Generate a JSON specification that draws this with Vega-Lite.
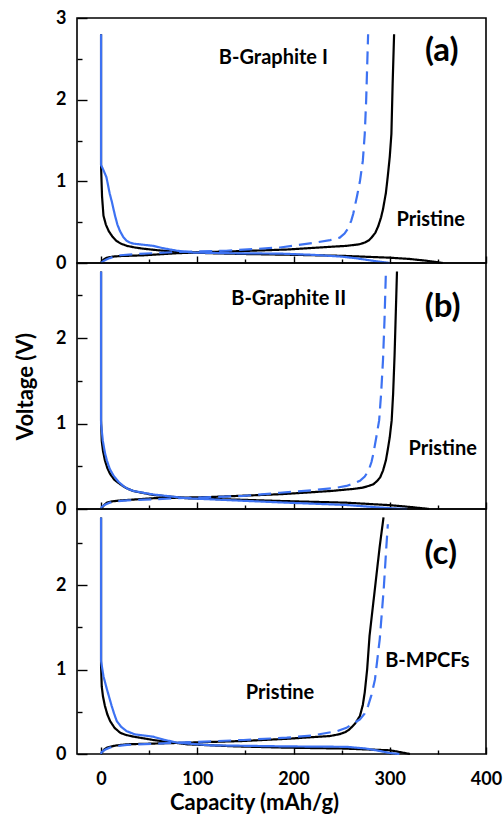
{
 "$schema": "https://vega.github.io/schema/vega-lite/v6.json",
 "background": "white",
 "padding": {"left": 13, "top": 8, "right": 0, "bottom": 0},
 "bounds": "flush",
 "spacing": 0,
 "config": {
  "view": {"stroke": "#000", "strokeWidth": 1.6},
  "font": "Lato",
  "axis": {"domain": false, "grid": false, "tickColor": "#000", "tickWidth": 1.4, "labelColor": "#000", "titleColor": "#000", "labelFont": "Lato", "titleFont": "Lato", "labelFontWeight": "bold", "titleFontWeight": "bold", "labelFontSize": 18, "titleFontSize": 22}
 },
 "datasets": {
  "curves": [
   {"p":"a","s":"Pd","x":0,"v":2.8},{"p":"a","s":"Pd","x":0,"v":1.2},{"p":"a","s":"Pd","x":0.5,"v":1.0},{"p":"a","s":"Pd","x":1,"v":0.82},{"p":"a","s":"Pd","x":2.5,"v":0.58},{"p":"a","s":"Pd","x":5,"v":0.47},{"p":"a","s":"Pd","x":8,"v":0.39},{"p":"a","s":"Pd","x":12,"v":0.32},{"p":"a","s":"Pd","x":16,"v":0.27},{"p":"a","s":"Pd","x":21,"v":0.235},{"p":"a","s":"Pd","x":27,"v":0.21},{"p":"a","s":"Pd","x":35,"v":0.19},{"p":"a","s":"Pd","x":44,"v":0.175},{"p":"a","s":"Pd","x":60,"v":0.155},{"p":"a","s":"Pd","x":79,"v":0.135},{"p":"a","s":"Pd","x":113,"v":0.12},{"p":"a","s":"Pd","x":150,"v":0.11},{"p":"a","s":"Pd","x":200,"v":0.1},{"p":"a","s":"Pd","x":250,"v":0.088},{"p":"a","s":"Pd","x":300,"v":0.065},{"p":"a","s":"Pd","x":320,"v":0.05},{"p":"a","s":"Pd","x":338,"v":0.028},{"p":"a","s":"Pd","x":348,"v":0.012},{"p":"a","s":"Pd","x":355,"v":0},
   {"p":"a","s":"Pc","x":0,"v":0},{"p":"a","s":"Pc","x":1,"v":0.025},{"p":"a","s":"Pc","x":3,"v":0.045},{"p":"a","s":"Pc","x":6,"v":0.065},{"p":"a","s":"Pc","x":12,"v":0.078},{"p":"a","s":"Pc","x":19.5,"v":0.085},{"p":"a","s":"Pc","x":44,"v":0.094},{"p":"a","s":"Pc","x":79,"v":0.12},{"p":"a","s":"Pc","x":113,"v":0.135},{"p":"a","s":"Pc","x":148,"v":0.147},{"p":"a","s":"Pc","x":193,"v":0.165},{"p":"a","s":"Pc","x":220,"v":0.185},{"p":"a","s":"Pc","x":255,"v":0.21},{"p":"a","s":"Pc","x":268,"v":0.228},{"p":"a","s":"Pc","x":274,"v":0.25},{"p":"a","s":"Pc","x":278,"v":0.275},{"p":"a","s":"Pc","x":281,"v":0.31},{"p":"a","s":"Pc","x":285,"v":0.37},{"p":"a","s":"Pc","x":288,"v":0.45},{"p":"a","s":"Pc","x":291,"v":0.56},{"p":"a","s":"Pc","x":293,"v":0.66},{"p":"a","s":"Pc","x":296,"v":0.86},{"p":"a","s":"Pc","x":298,"v":1.07},{"p":"a","s":"Pc","x":300,"v":1.3},{"p":"a","s":"Pc","x":301.7,"v":1.58},{"p":"a","s":"Pc","x":303,"v":2.2},{"p":"a","s":"Pc","x":304.5,"v":2.8},
   {"p":"a","s":"Bd","x":0,"v":2.8},{"p":"a","s":"Bd","x":0,"v":1.2},{"p":"a","s":"Bd","x":2,"v":1.15},{"p":"a","s":"Bd","x":5.6,"v":1.05},{"p":"a","s":"Bd","x":9,"v":0.85},{"p":"a","s":"Bd","x":11,"v":0.76},{"p":"a","s":"Bd","x":14.5,"v":0.58},{"p":"a","s":"Bd","x":17,"v":0.47},{"p":"a","s":"Bd","x":19.7,"v":0.39},{"p":"a","s":"Bd","x":23,"v":0.32},{"p":"a","s":"Bd","x":26.7,"v":0.27},{"p":"a","s":"Bd","x":30,"v":0.25},{"p":"a","s":"Bd","x":33.7,"v":0.237},{"p":"a","s":"Bd","x":45,"v":0.222},{"p":"a","s":"Bd","x":54,"v":0.21},{"p":"a","s":"Bd","x":65,"v":0.18},{"p":"a","s":"Bd","x":79,"v":0.15},{"p":"a","s":"Bd","x":96,"v":0.128},{"p":"a","s":"Bd","x":130,"v":0.12},{"p":"a","s":"Bd","x":186,"v":0.115},{"p":"a","s":"Bd","x":220,"v":0.1},{"p":"a","s":"Bd","x":250,"v":0.078},{"p":"a","s":"Bd","x":265,"v":0.058},{"p":"a","s":"Bd","x":278,"v":0.035},{"p":"a","s":"Bd","x":290,"v":0.015},{"p":"a","s":"Bd","x":300,"v":0},
   {"p":"a","s":"Bc","x":0,"v":0},{"p":"a","s":"Bc","x":2,"v":0.02},{"p":"a","s":"Bc","x":5,"v":0.04},{"p":"a","s":"Bc","x":9,"v":0.06},{"p":"a","s":"Bc","x":12.5,"v":0.074},{"p":"a","s":"Bc","x":20,"v":0.095},{"p":"a","s":"Bc","x":33,"v":0.107},{"p":"a","s":"Bc","x":79,"v":0.135},{"p":"a","s":"Bc","x":130,"v":0.15},{"p":"a","s":"Bc","x":186,"v":0.19},{"p":"a","s":"Bc","x":220,"v":0.245},{"p":"a","s":"Bc","x":238,"v":0.28},{"p":"a","s":"Bc","x":248,"v":0.31},{"p":"a","s":"Bc","x":253,"v":0.36},{"p":"a","s":"Bc","x":257,"v":0.43},{"p":"a","s":"Bc","x":260,"v":0.52},{"p":"a","s":"Bc","x":262,"v":0.6},{"p":"a","s":"Bc","x":266,"v":0.82},{"p":"a","s":"Bc","x":269,"v":1.0},{"p":"a","s":"Bc","x":272,"v":1.25},{"p":"a","s":"Bc","x":274,"v":1.58},{"p":"a","s":"Bc","x":275.5,"v":2.0},{"p":"a","s":"Bc","x":277.5,"v":2.8},
   {"p":"b","s":"Pd","x":0,"v":2.78},{"p":"b","s":"Pd","x":0,"v":1.04},{"p":"b","s":"Pd","x":0.7,"v":0.8},{"p":"b","s":"Pd","x":2,"v":0.68},{"p":"b","s":"Pd","x":4,"v":0.57},{"p":"b","s":"Pd","x":6.5,"v":0.48},{"p":"b","s":"Pd","x":9.4,"v":0.41},{"p":"b","s":"Pd","x":14,"v":0.34},{"p":"b","s":"Pd","x":20,"v":0.29},{"p":"b","s":"Pd","x":26,"v":0.245},{"p":"b","s":"Pd","x":33.6,"v":0.21},{"p":"b","s":"Pd","x":54,"v":0.165},{"p":"b","s":"Pd","x":89,"v":0.126},{"p":"b","s":"Pd","x":140,"v":0.11},{"p":"b","s":"Pd","x":186,"v":0.094},{"p":"b","s":"Pd","x":255,"v":0.074},{"p":"b","s":"Pd","x":300,"v":0.045},{"p":"b","s":"Pd","x":320,"v":0.025},{"p":"b","s":"Pd","x":333,"v":0.01},{"p":"b","s":"Pd","x":341,"v":0},
   {"p":"b","s":"Pc","x":0,"v":0},{"p":"b","s":"Pc","x":1,"v":0.015},{"p":"b","s":"Pc","x":3,"v":0.045},{"p":"b","s":"Pc","x":6,"v":0.074},{"p":"b","s":"Pc","x":12,"v":0.09},{"p":"b","s":"Pc","x":20,"v":0.1},{"p":"b","s":"Pc","x":54,"v":0.126},{"p":"b","s":"Pc","x":113,"v":0.14},{"p":"b","s":"Pc","x":186,"v":0.173},{"p":"b","s":"Pc","x":238,"v":0.21},{"p":"b","s":"Pc","x":262,"v":0.235},{"p":"b","s":"Pc","x":272,"v":0.25},{"p":"b","s":"Pc","x":278,"v":0.27},{"p":"b","s":"Pc","x":283,"v":0.29},{"p":"b","s":"Pc","x":287,"v":0.33},{"p":"b","s":"Pc","x":290,"v":0.37},{"p":"b","s":"Pc","x":293,"v":0.45},{"p":"b","s":"Pc","x":296,"v":0.57},{"p":"b","s":"Pc","x":298,"v":0.7},{"p":"b","s":"Pc","x":300,"v":0.84},{"p":"b","s":"Pc","x":302,"v":1.04},{"p":"b","s":"Pc","x":303.5,"v":1.35},{"p":"b","s":"Pc","x":305,"v":1.8},{"p":"b","s":"Pc","x":307.5,"v":2.78},
   {"p":"b","s":"Bd","x":0,"v":2.78},{"p":"b","s":"Bd","x":0,"v":1.0},{"p":"b","s":"Bd","x":1.8,"v":0.8},{"p":"b","s":"Bd","x":4,"v":0.66},{"p":"b","s":"Bd","x":6,"v":0.57},{"p":"b","s":"Bd","x":9,"v":0.47},{"p":"b","s":"Bd","x":13,"v":0.39},{"p":"b","s":"Bd","x":18,"v":0.32},{"p":"b","s":"Bd","x":23,"v":0.27},{"p":"b","s":"Bd","x":28,"v":0.235},{"p":"b","s":"Bd","x":34,"v":0.21},{"p":"b","s":"Bd","x":54,"v":0.17},{"p":"b","s":"Bd","x":89,"v":0.126},{"p":"b","s":"Bd","x":140,"v":0.1},{"p":"b","s":"Bd","x":193,"v":0.074},{"p":"b","s":"Bd","x":255,"v":0.047},{"p":"b","s":"Bd","x":275,"v":0.03},{"p":"b","s":"Bd","x":290,"v":0.017},{"p":"b","s":"Bd","x":305,"v":0.007},{"p":"b","s":"Bd","x":318,"v":0},
   {"p":"b","s":"Bc","x":0,"v":0},{"p":"b","s":"Bc","x":0.7,"v":0.024},{"p":"b","s":"Bc","x":4,"v":0.05},{"p":"b","s":"Bc","x":9,"v":0.074},{"p":"b","s":"Bc","x":16,"v":0.09},{"p":"b","s":"Bc","x":27,"v":0.1},{"p":"b","s":"Bc","x":79,"v":0.126},{"p":"b","s":"Bc","x":148,"v":0.153},{"p":"b","s":"Bc","x":186,"v":0.19},{"p":"b","s":"Bc","x":220,"v":0.22},{"p":"b","s":"Bc","x":245,"v":0.25},{"p":"b","s":"Bc","x":255,"v":0.27},{"p":"b","s":"Bc","x":263,"v":0.3},{"p":"b","s":"Bc","x":269,"v":0.33},{"p":"b","s":"Bc","x":274,"v":0.38},{"p":"b","s":"Bc","x":278,"v":0.45},{"p":"b","s":"Bc","x":281,"v":0.55},{"p":"b","s":"Bc","x":283,"v":0.65},{"p":"b","s":"Bc","x":286,"v":0.84},{"p":"b","s":"Bc","x":289,"v":1.04},{"p":"b","s":"Bc","x":291,"v":1.35},{"p":"b","s":"Bc","x":293,"v":1.75},{"p":"b","s":"Bc","x":294.5,"v":2.2},{"p":"b","s":"Bc","x":296,"v":2.78},
   {"p":"c","s":"Pd","x":0,"v":2.8},{"p":"c","s":"Pd","x":0,"v":1.05},{"p":"c","s":"Pd","x":0.7,"v":0.8},{"p":"c","s":"Pd","x":2,"v":0.68},{"p":"c","s":"Pd","x":4,"v":0.57},{"p":"c","s":"Pd","x":6.5,"v":0.47},{"p":"c","s":"Pd","x":9.4,"v":0.39},{"p":"c","s":"Pd","x":14,"v":0.31},{"p":"c","s":"Pd","x":20,"v":0.25},{"p":"c","s":"Pd","x":26,"v":0.225},{"p":"c","s":"Pd","x":34,"v":0.205},{"p":"c","s":"Pd","x":54,"v":0.166},{"p":"c","s":"Pd","x":89,"v":0.115},{"p":"c","s":"Pd","x":140,"v":0.09},{"p":"c","s":"Pd","x":193,"v":0.075},{"p":"c","s":"Pd","x":250,"v":0.065},{"p":"c","s":"Pd","x":300,"v":0.044},{"p":"c","s":"Pd","x":312,"v":0.02},{"p":"c","s":"Pd","x":321,"v":0},
   {"p":"c","s":"Pc","x":0,"v":0},{"p":"c","s":"Pc","x":1,"v":0.02},{"p":"c","s":"Pc","x":3,"v":0.05},{"p":"c","s":"Pc","x":6,"v":0.075},{"p":"c","s":"Pc","x":15,"v":0.1},{"p":"c","s":"Pc","x":27,"v":0.115},{"p":"c","s":"Pc","x":89,"v":0.134},{"p":"c","s":"Pc","x":148,"v":0.154},{"p":"c","s":"Pc","x":193,"v":0.18},{"p":"c","s":"Pc","x":238,"v":0.213},{"p":"c","s":"Pc","x":248,"v":0.235},{"p":"c","s":"Pc","x":254,"v":0.26},{"p":"c","s":"Pc","x":258,"v":0.29},{"p":"c","s":"Pc","x":264,"v":0.36},{"p":"c","s":"Pc","x":269,"v":0.45},{"p":"c","s":"Pc","x":272,"v":0.58},{"p":"c","s":"Pc","x":274,"v":0.73},{"p":"c","s":"Pc","x":276.5,"v":1.0},{"p":"c","s":"Pc","x":279,"v":1.4},{"p":"c","s":"Pc","x":284.5,"v":1.95},{"p":"c","s":"Pc","x":289.6,"v":2.46},{"p":"c","s":"Pc","x":293.5,"v":2.8},
   {"p":"c","s":"Bd","x":0,"v":2.8},{"p":"c","s":"Bd","x":0,"v":1.1},{"p":"c","s":"Bd","x":2.5,"v":0.92},{"p":"c","s":"Bd","x":6,"v":0.77},{"p":"c","s":"Bd","x":11,"v":0.57},{"p":"c","s":"Bd","x":13.5,"v":0.48},{"p":"c","s":"Bd","x":16.3,"v":0.39},{"p":"c","s":"Bd","x":21,"v":0.32},{"p":"c","s":"Bd","x":26.7,"v":0.27},{"p":"c","s":"Bd","x":35,"v":0.233},{"p":"c","s":"Bd","x":54,"v":0.205},{"p":"c","s":"Bd","x":65,"v":0.17},{"p":"c","s":"Bd","x":79,"v":0.134},{"p":"c","s":"Bd","x":113,"v":0.103},{"p":"c","s":"Bd","x":193,"v":0.09},{"p":"c","s":"Bd","x":255,"v":0.085},{"p":"c","s":"Bd","x":275,"v":0.065},{"p":"c","s":"Bd","x":290,"v":0.035},{"p":"c","s":"Bd","x":300,"v":0.012},{"p":"c","s":"Bd","x":310,"v":0},
   {"p":"c","s":"Bc","x":0,"v":0},{"p":"c","s":"Bc","x":0.7,"v":0.024},{"p":"c","s":"Bc","x":4,"v":0.05},{"p":"c","s":"Bc","x":9,"v":0.075},{"p":"c","s":"Bc","x":17,"v":0.095},{"p":"c","s":"Bc","x":27,"v":0.107},{"p":"c","s":"Bc","x":79,"v":0.134},{"p":"c","s":"Bc","x":148,"v":0.166},{"p":"c","s":"Bc","x":193,"v":0.193},{"p":"c","s":"Bc","x":220,"v":0.22},{"p":"c","s":"Bc","x":245,"v":0.27},{"p":"c","s":"Bc","x":255,"v":0.31},{"p":"c","s":"Bc","x":262,"v":0.36},{"p":"c","s":"Bc","x":269,"v":0.41},{"p":"c","s":"Bc","x":274,"v":0.48},{"p":"c","s":"Bc","x":277.5,"v":0.57},{"p":"c","s":"Bc","x":281,"v":0.7},{"p":"c","s":"Bc","x":284.6,"v":0.88},{"p":"c","s":"Bc","x":289.6,"v":1.36},{"p":"c","s":"Bc","x":293.7,"v":1.95},{"p":"c","s":"Bc","x":296.5,"v":2.46},{"p":"c","s":"Bc","x":298,"v":2.72}
  ],
  "notes": [
   {"p":"a","k":"tag","t":"(a)","x":354,"v":2.6},
   {"p":"a","k":"lab","t":"B-Graphite I","x":179,"v":2.51},
   {"p":"a","k":"lab","t":"Pristine","x":342.5,"v":0.53},
   {"p":"b","k":"tag","t":"(b)","x":355,"v":2.37},
   {"p":"b","k":"lab","t":"B-Graphite II","x":195,"v":2.46},
   {"p":"b","k":"lab","t":"Pristine","x":355,"v":0.7},
   {"p":"c","k":"tag","t":"(c)","x":353,"v":2.37},
   {"p":"c","k":"lab","t":"B-MPCFs","x":339,"v":1.1},
   {"p":"c","k":"lab","t":"Pristine","x":186,"v":0.72}
  ]
 },
 "vconcat": [
  {
   "width": 409, "height": 245,
   "layer": [
    {"data": {"name": "curves"}, "transform": [{"filter": "datum.p === 'a'"}],
     "mark": {"type": "line", "strokeWidth": 2.2},
     "encoding": {
      "x": {"field": "x", "type": "quantitative", "scale": {"domain": [-25, 400], "nice": false, "zero": false}, "axis": {"orient": "bottom", "values": [0, 100, 200, 300, 400], "tickSize": -7, "labels": false, "title": null}},
      "y": {"field": "v", "type": "quantitative", "scale": {"domain": [0, 3], "nice": false}, "axis": {"orient": "left", "values": [0, 1, 2, 3], "tickSize": -10, "labelPadding": 21, "title": null}},
      "color": {"field": "s", "type": "nominal", "scale": {"domain": ["Pd", "Pc", "Bd", "Bc"], "range": ["#000000", "#000000", "#3d72f2", "#3d72f2"]}, "legend": null},
      "strokeDash": {"field": "s", "type": "nominal", "scale": {"domain": ["Pd", "Pc", "Bd", "Bc"], "range": [[1, 0], [1, 0], [1, 0], [13, 7]]}, "legend": null},
      "order": {"value": null}
     }},
    {"data": {"name": "notes"}, "transform": [{"filter": "datum.p === 'a' && datum.k === 'tag'"}],
     "mark": {"type": "text", "fontSize": 33, "fontWeight": "bold", "font": "Lato", "color": "#000"},
     "encoding": {
      "x": {"field": "x", "type": "quantitative", "scale": {"domain": [-25, 400], "nice": false, "zero": false}, "axis": {"orient": "bottom", "values": [50, 150, 250, 350], "tickSize": -4, "labels": false, "title": null}},
      "y": {"field": "v", "type": "quantitative", "scale": {"domain": [0, 3], "nice": false}, "axis": {"orient": "left", "values": [0.5, 1.5, 2.5], "tickSize": -5, "labels": false, "title": null}},
      "text": {"field": "t"}
     }},
    {"data": {"name": "notes"}, "transform": [{"filter": "datum.p === 'a' && datum.k === 'lab'"}],
     "mark": {"type": "text", "fontSize": 20, "fontWeight": "bold", "font": "Lato", "color": "#000"},
     "encoding": {
      "x": {"field": "x", "type": "quantitative", "scale": {"domain": [-25, 400], "nice": false, "zero": false}, "axis": null},
      "y": {"field": "v", "type": "quantitative", "scale": {"domain": [0, 3], "nice": false}, "axis": null},
      "text": {"field": "t"}
     }}
   ],
   "resolve": {"axis": {"x": "independent", "y": "independent"}}
  },
  {
   "width": 409, "height": 246,
   "layer": [
    {"data": {"name": "curves"}, "transform": [{"filter": "datum.p === 'b'"}],
     "mark": {"type": "line", "strokeWidth": 2.2},
     "encoding": {
      "x": {"field": "x", "type": "quantitative", "scale": {"domain": [-25, 400], "nice": false, "zero": false}, "axis": {"orient": "bottom", "values": [0, 100, 200, 300, 400], "tickSize": -7, "labels": false, "title": null}},
      "y": {"field": "v", "type": "quantitative", "scale": {"domain": [0, 2.88], "nice": false}, "axis": {"orient": "left", "values": [0, 1, 2], "tickSize": -10, "labelPadding": 21, "title": "Voltage (V)", "titlePadding": 18}},
      "color": {"field": "s", "type": "nominal", "scale": {"domain": ["Pd", "Pc", "Bd", "Bc"], "range": ["#000000", "#000000", "#3d72f2", "#3d72f2"]}, "legend": null},
      "strokeDash": {"field": "s", "type": "nominal", "scale": {"domain": ["Pd", "Pc", "Bd", "Bc"], "range": [[1, 0], [1, 0], [1, 0], [13, 7]]}, "legend": null},
      "order": {"value": null}
     }},
    {"data": {"name": "notes"}, "transform": [{"filter": "datum.p === 'b' && datum.k === 'tag'"}],
     "mark": {"type": "text", "fontSize": 33, "fontWeight": "bold", "font": "Lato", "color": "#000"},
     "encoding": {
      "x": {"field": "x", "type": "quantitative", "scale": {"domain": [-25, 400], "nice": false, "zero": false}, "axis": {"orient": "bottom", "values": [50, 150, 250, 350], "tickSize": -4, "labels": false, "title": null}},
      "y": {"field": "v", "type": "quantitative", "scale": {"domain": [0, 2.88], "nice": false}, "axis": {"orient": "left", "values": [0.5, 1.5, 2.5], "tickSize": -5, "labels": false, "title": null}},
      "text": {"field": "t"}
     }},
    {"data": {"name": "notes"}, "transform": [{"filter": "datum.p === 'b' && datum.k === 'lab'"}],
     "mark": {"type": "text", "fontSize": 20, "fontWeight": "bold", "font": "Lato", "color": "#000"},
     "encoding": {
      "x": {"field": "x", "type": "quantitative", "scale": {"domain": [-25, 400], "nice": false, "zero": false}, "axis": null},
      "y": {"field": "v", "type": "quantitative", "scale": {"domain": [0, 2.88], "nice": false}, "axis": null},
      "text": {"field": "t"}
     }}
   ],
   "resolve": {"axis": {"x": "independent", "y": "independent"}}
  },
  {
   "width": 409, "height": 245,
   "layer": [
    {"data": {"name": "curves"}, "transform": [{"filter": "datum.p === 'c'"}],
     "mark": {"type": "line", "strokeWidth": 2.2},
     "encoding": {
      "x": {"field": "x", "type": "quantitative", "scale": {"domain": [-25, 400], "nice": false, "zero": false}, "axis": {"orient": "bottom", "values": [0, 100, 200, 300, 400], "tickSize": -7, "labelPadding": 23, "labelFlush": false, "title": "Capacity (mAh/g)", "titlePadding": 4, "titleX": 177}},
      "y": {"field": "v", "type": "quantitative", "scale": {"domain": [0, 2.9], "nice": false}, "axis": {"orient": "left", "values": [0, 1, 2], "tickSize": -10, "labelPadding": 21, "title": null}},
      "color": {"field": "s", "type": "nominal", "scale": {"domain": ["Pd", "Pc", "Bd", "Bc"], "range": ["#000000", "#000000", "#3d72f2", "#3d72f2"]}, "legend": null},
      "strokeDash": {"field": "s", "type": "nominal", "scale": {"domain": ["Pd", "Pc", "Bd", "Bc"], "range": [[1, 0], [1, 0], [1, 0], [13, 7]]}, "legend": null},
      "order": {"value": null}
     }},
    {"data": {"name": "notes"}, "transform": [{"filter": "datum.p === 'c' && datum.k === 'tag'"}],
     "mark": {"type": "text", "fontSize": 33, "fontWeight": "bold", "font": "Lato", "color": "#000"},
     "encoding": {
      "x": {"field": "x", "type": "quantitative", "scale": {"domain": [-25, 400], "nice": false, "zero": false}, "axis": {"orient": "bottom", "values": [50, 150, 250, 350], "tickSize": -4, "labels": false, "title": null}},
      "y": {"field": "v", "type": "quantitative", "scale": {"domain": [0, 2.9], "nice": false}, "axis": {"orient": "left", "values": [0.5, 1.5, 2.5], "tickSize": -5, "labels": false, "title": null}},
      "text": {"field": "t"}
     }},
    {"data": {"name": "notes"}, "transform": [{"filter": "datum.p === 'c' && datum.k === 'lab'"}],
     "mark": {"type": "text", "fontSize": 20, "fontWeight": "bold", "font": "Lato", "color": "#000"},
     "encoding": {
      "x": {"field": "x", "type": "quantitative", "scale": {"domain": [-25, 400], "nice": false, "zero": false}, "axis": null},
      "y": {"field": "v", "type": "quantitative", "scale": {"domain": [0, 2.9], "nice": false}, "axis": null},
      "text": {"field": "t"}
     }}
   ],
   "resolve": {"axis": {"x": "independent", "y": "independent"}}
  }
 ]
}
